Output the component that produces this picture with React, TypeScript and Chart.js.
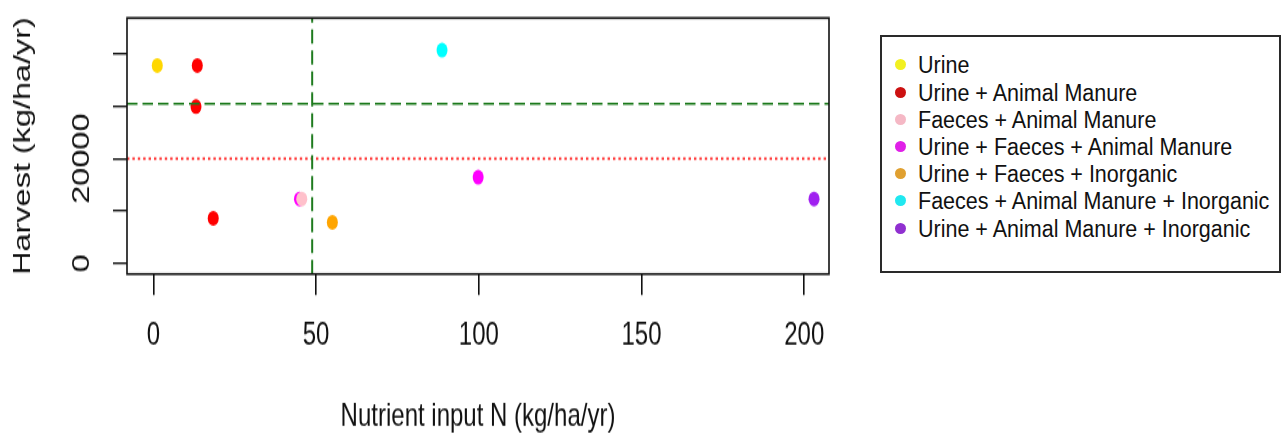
import React, { useEffect, useRef } from 'react';
import { Chart, registerables } from 'chart.js';

Chart.register(...registerables);

// ---------- data ----------
const SERIES_NAMES = [
  'Urine',
  'Urine + Animal Manure',
  'Faeces + Animal Manure',
  'Urine + Faeces + Animal Manure',
  'Urine + Faeces + Inorganic',
  'Faeces + Animal Manure + Inorganic',
  'Urine + Animal Manure + Inorganic',
];
const POINT_COLORS = ['#FFD700', '#FF0000', '#FFC0CB', '#FF00FF', '#FFA500', '#00FFFF', '#A020F0'];
const LEGEND_COLORS = ['#F2F020', '#CC1111', '#F5B8C5', '#E020E8', '#E0A030', '#20E8F0', '#9030D0'];

const URINE_N = [1.2];
const URINE_HARVEST = [37820];
const URINE_AM_N = [13.5, 13.1, 18.4];
const URINE_AM_HARVEST = [37820, 29970, 8610];
const FAECES_AM_N = [45.6];
const FAECES_AM_HARVEST = [12310];
const URINE_FAECES_AM_N = [44.9, 99.8];
const URINE_FAECES_AM_HARVEST = [12310, 16460];
const URINE_FAECES_INORG_N = [55.0];
const URINE_FAECES_INORG_HARVEST = [7850];
const FAECES_AM_INORG_N = [88.7];
const FAECES_AM_INORG_HARVEST = [40770];
const URINE_AM_INORG_N = [203.0];
const URINE_AM_INORG_HARVEST = [12310];

const SERIES_N = [URINE_N, URINE_AM_N, FAECES_AM_N, URINE_FAECES_AM_N, URINE_FAECES_INORG_N, FAECES_AM_INORG_N, URINE_AM_INORG_N];
const SERIES_HARVEST = [URINE_HARVEST, URINE_AM_HARVEST, FAECES_AM_HARVEST, URINE_FAECES_AM_HARVEST, URINE_FAECES_INORG_HARVEST, FAECES_AM_INORG_HARVEST, URINE_AM_INORG_HARVEST];

const X_TICKS = [0, 50, 100, 150, 200];
const Y_TICKS = [0, 10000, 20000, 30000, 40000];
const Y_TICK_LABELS = ['0', '', '20000', '', ''];
const X_RANGE = [-8.1, 207.6];
const Y_RANGE = [-2050, 46900];

const N_THRESHOLD = 48.8;
const HARVEST_TARGET = 30500;
const HARVEST_REFERENCE = 20000;

const X_TITLE = 'Nutrient input N (kg/ha/yr)';
const Y_TITLE = 'Harvest (kg/ha/yr)';

// ---------- layout ----------
const W = 1282;
const H_PAGE = 438;
const H = 324; // internal canvas height, stretched vertically to H_PAGE
const FONT = '"Liberation Sans", Arial, Helvetica, sans-serif';
const ROW = 27.2;

const boxPlugin = {
  id: 'plotBox',
  afterDraw(chart: any) {
    const { ctx, chartArea } = chart;
    ctx.save();
    ctx.strokeStyle = '#111';
    ctx.lineWidth = 1.6;
    ctx.strokeRect(chartArea.left, chartArea.top, chartArea.right - chartArea.left, chartArea.bottom - chartArea.top);
    ctx.restore();
  },
};

export default function App() {
  const canvasRef = useRef<HTMLCanvasElement | null>(null);

  useEffect(() => {
    const canvas = canvasRef.current;
    if (!canvas) return;

    const pointSets = SERIES_NAMES.map((name, i) => ({
      label: name,
      data: SERIES_N[i].map((x, j) => ({ x, y: SERIES_HARVEST[i][j] })),
      backgroundColor: POINT_COLORS[i],
      borderColor: POINT_COLORS[i],
      pointRadius: 5.5,
      pointBorderWidth: 0,
      showLine: false,
      order: 1,
    }));

    const refLines = [
      {
        label: 'N threshold',
        data: [
          { x: N_THRESHOLD, y: Y_RANGE[0] },
          { x: N_THRESHOLD, y: Y_RANGE[1] },
        ],
        borderColor: '#1E7B1E',
        borderWidth: 2,
        borderDash: [10.5, 5],
        pointRadius: 0,
        showLine: true,
        order: 0,
      },
      {
        label: 'Harvest target',
        data: [
          { x: X_RANGE[0], y: HARVEST_TARGET },
          { x: X_RANGE[1], y: HARVEST_TARGET },
        ],
        borderColor: '#1E7B1E',
        borderWidth: 1.6,
        borderDash: [10.5, 5],
        pointRadius: 0,
        showLine: true,
        order: 0,
      },
      {
        label: 'Harvest reference',
        data: [
          { x: X_RANGE[0], y: HARVEST_REFERENCE },
          { x: X_RANGE[1], y: HARVEST_REFERENCE },
        ],
        borderColor: '#FF2020',
        borderWidth: 1.6,
        borderDash: [2.4, 3],
        pointRadius: 0,
        showLine: true,
        order: 0,
      },
    ];

    const chart = new Chart(canvas, {
      type: 'scatter',
      data: { datasets: [...refLines, ...pointSets] as any },
      options: {
        animation: false,
        responsive: false,
        devicePixelRatio: 1,
        events: [],
        layout: { padding: { left: 0, top: 13.3, right: W - 829, bottom: 0 } },
        plugins: { legend: { display: false }, tooltip: { enabled: false } },
        scales: {
          x: {
            type: 'linear',
            min: X_RANGE[0],
            max: X_RANGE[1],
            afterBuildTicks: (s: any) => {
              s.ticks = X_TICKS.map((v) => ({ value: v }));
            },
            afterFit: (s: any) => {
              s.height = H - 202.7;
            },
            ticks: {
              autoSkip: false,
              maxRotation: 0,
              minRotation: 0,
              padding: 16,
              color: '#111',
              font: { family: FONT, size: 24 },
              callback: (v: any) => String(v),
            },
            grid: {
              display: true,
              drawOnChartArea: false,
              drawTicks: true,
              tickLength: 15.5,
              color: '#111',
              lineWidth: 1.6,
            },
            border: { display: false },
            title: {
              display: true,
              text: X_TITLE,
              color: '#111',
              font: { family: FONT, size: 24 },
              padding: { top: 0, bottom: 1.4 },
            },
          },
          y: {
            type: 'linear',
            min: Y_RANGE[0],
            max: Y_RANGE[1],
            afterBuildTicks: (s: any) => {
              s.ticks = Y_TICKS.map((v) => ({ value: v }));
            },
            afterFit: (s: any) => {
              s.width = 127;
            },
            ticks: {
              autoSkip: false,
              minRotation: 90,
              maxRotation: 90,
              crossAlign: 'center',
              padding: -2.4,
              color: '#111',
              font: { family: FONT, size: 24 },
              callback: (v: any) => {
                const k = Y_TICKS.indexOf(Number(v));
                return k >= 0 ? Y_TICK_LABELS[k] : '';
              },
            },
            grid: {
              display: true,
              drawOnChartArea: false,
              drawTicks: true,
              tickLength: 14,
              color: '#111',
              lineWidth: 1.4,
            },
            border: { display: false },
            title: {
              display: true,
              text: Y_TITLE,
              color: '#111',
              font: { family: FONT, size: 24 },
              padding: { top: 8.6, bottom: 0 },
            },
          },
        },
      },
      plugins: [boxPlugin],
    } as any);

    return () => chart.destroy();
  }, []);

  return (
    <div style={{ position: 'absolute', left: 0, top: 0, width: W, height: H_PAGE, background: '#fff' }}>
      <canvas
        ref={canvasRef}
        width={W}
        height={H}
        style={{ width: `${W}px`, height: `${H_PAGE}px`, display: 'block' }}
      />
      <div
        style={{
          position: 'absolute',
          left: 880,
          top: 35,
          width: 401,
          height: 238,
          boxSizing: 'border-box',
          border: '2px solid #2a2a2a',
          background: '#fff',
          fontFamily: FONT,
          fontSize: 21.5,
          color: '#111',
        }}
      >
        {SERIES_NAMES.map((name, i) => (
          <div
            key={name}
            style={{
              position: 'absolute',
              left: 0,
              top: 65 - ROW / 2 - 37 + ROW * i,
              height: ROW,
              width: '100%',
            }}
          >
            <span
              style={{
                position: 'absolute',
                left: 12.5,
                top: ROW / 2 - 5.5,
                width: 11,
                height: 11,
                borderRadius: '50%',
                background: LEGEND_COLORS[i],
              }}
            />
            <span
              style={{
                position: 'absolute',
                left: 36,
                top: 1,
                lineHeight: `${ROW}px`,
                whiteSpace: 'nowrap',
                display: 'inline-block',
                transform: 'scaleY(1.12)',
              }}
            >
              {name}
            </span>
          </div>
        ))}
      </div>
    </div>
  );
}
